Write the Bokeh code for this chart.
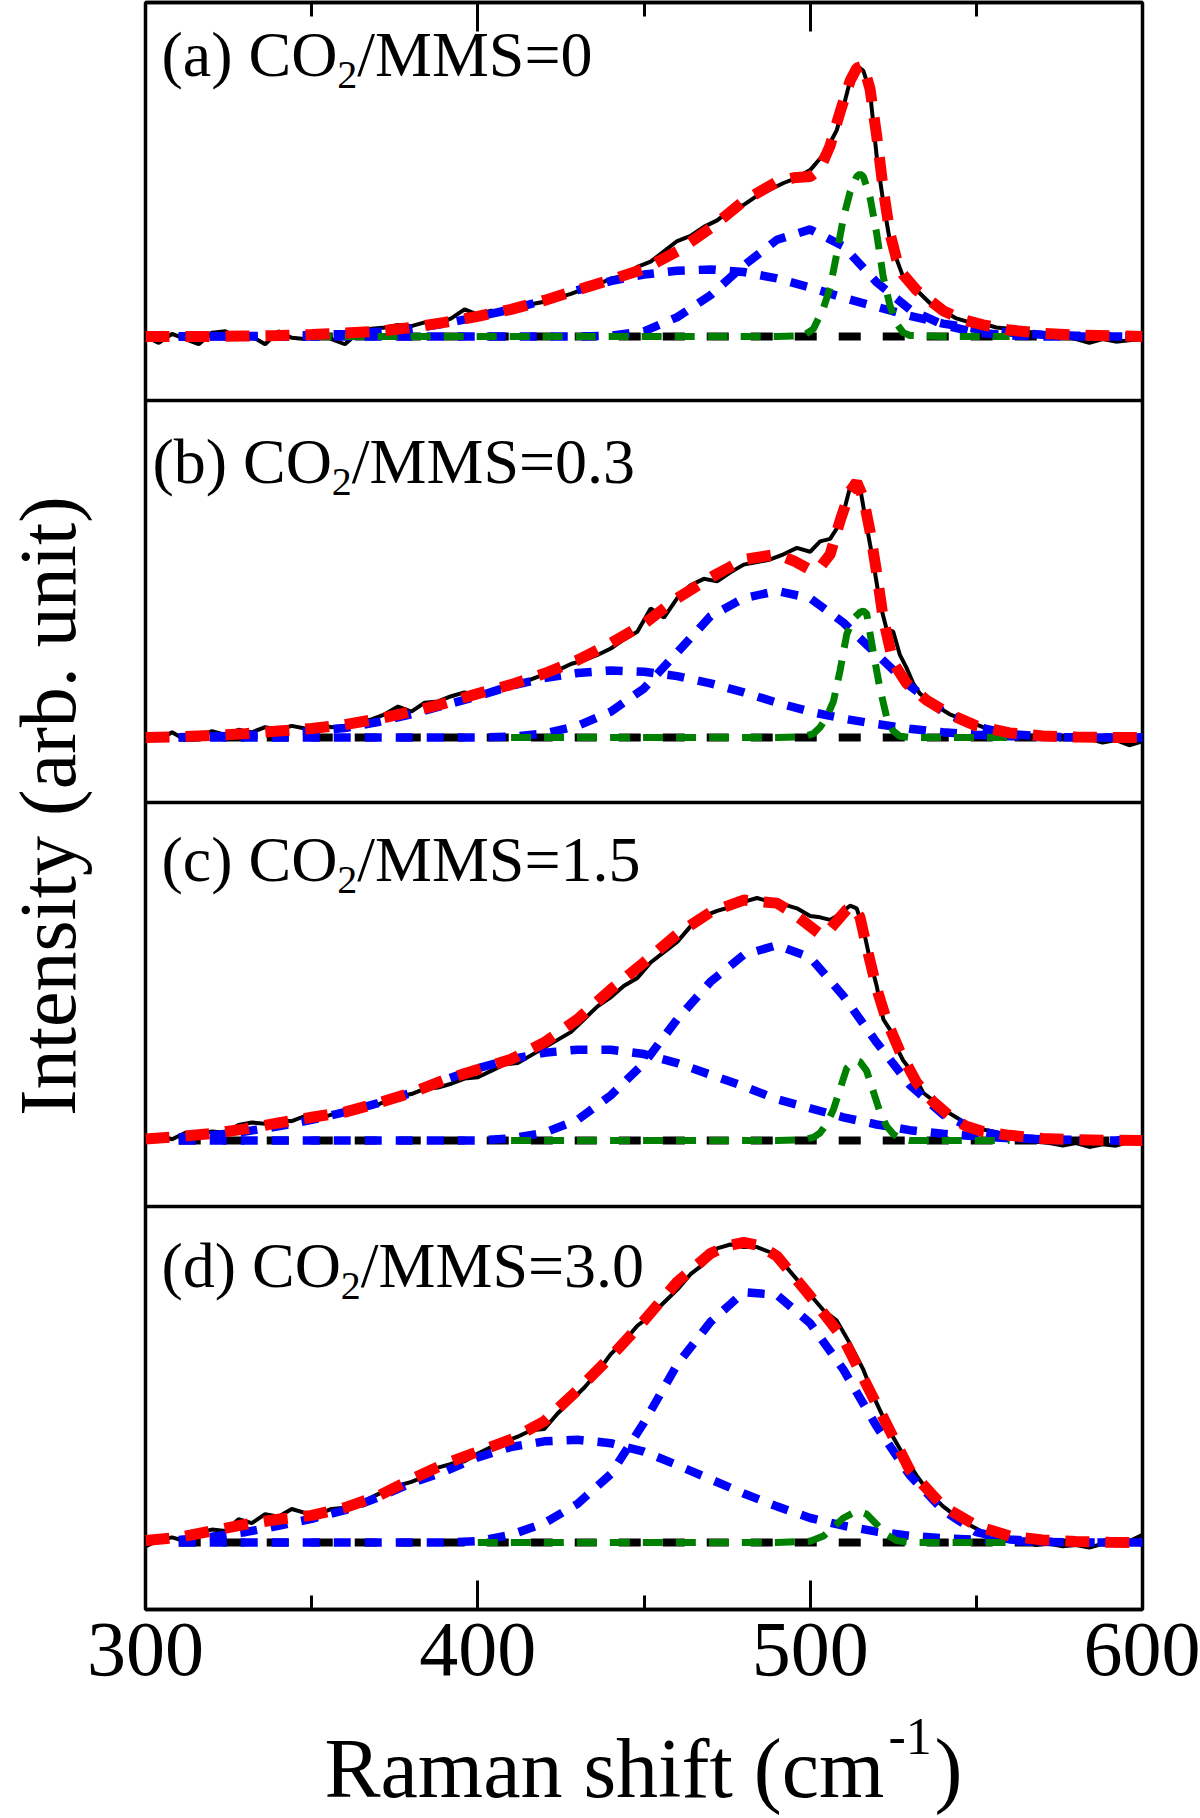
import math
from bokeh.plotting import figure
from bokeh.layouts import row, column
from bokeh.models import Range1d, LinearAxis, FixedTicker, Label, Span
from bokeh.embed import file_html
from bokeh.resources import INLINE

# ---------------------------------------------------------------- data
x_major_ticks = [300, 400, 500, 600]
x_minor_ticks = [350, 450, 550]

panel_titles = [("(a) CO", "2", "/MMS=0"),
                ("(b) CO", "2", "/MMS=0.3"),
                ("(c) CO", "2", "/MMS=1.5"),
                ("(d) CO", "2", "/MMS=3.0")]
x_title = ("Raman shift (cm", "-1", ")")
y_title = "Intensity (arb. unit)"

# common grid of the two broad (blue) components
comp_x = [310, 320, 330, 340, 350, 360, 370, 380, 390, 400, 410, 420, 430, 440, 450,
          460, 470, 480, 490, 500, 510, 520, 530, 540, 550, 560, 570, 580, 590, 600]

baseline_x = [310, 590]
baseline_y = [0, 0]

# ---- (a) CO2/MMS = 0
a_meas_x = list(range(300, 501, 4)) + [503, 506, 508, 510, 512, 514, 516, 518, 520, 522, 524, 526,
                                       528, 530, 532] + list(range(536, 601, 4))
a_meas_y = [0.00, -0.025, 0.01, -0.01, -0.03, 0.015, 0.02, -0.005, 0.0, -0.03,
            0.02, -0.005, -0.01, 0.02, -0.01, -0.03, 0.015, 0.03, 0.035, 0.045,
            0.04, 0.055, 0.05, 0.07, 0.105, 0.085, 0.1, 0.095, 0.12, 0.125,
            0.135, 0.15, 0.165, 0.185, 0.2, 0.225, 0.235, 0.27, 0.29, 0.33,
            0.37, 0.39, 0.425, 0.45, 0.49, 0.51, 0.545, 0.57, 0.595, 0.615,
            0.645,
            0.69, 0.75, 0.80, 0.89, 0.99, 1.05, 1.03, 0.95, 0.70, 0.52, 0.37, 0.30, 0.23, 0.20, 0.18,
            0.13, 0.10, 0.07, 0.055, 0.05, 0.035, 0.03, 0.02, 0.015, 0.01, 0.0, -0.01, -0.025,
            -0.01, -0.02, -0.015, -0.01]
a_fit_x = [300, 310, 320, 330, 340, 350, 360, 370, 380, 390, 400, 410, 420, 430, 440, 450, 460,
           470, 480, 490, 495, 500, 503, 506, 509, 512, 514, 516, 518, 520, 522, 524, 526, 528,
           532, 536, 540, 546, 552, 560, 570, 580, 590, 600]
a_fit_y = [0.0, 0.0, 0.0, 0.002, 0.004, 0.008, 0.013, 0.02, 0.035, 0.055, 0.078, 0.105, 0.14,
           0.18, 0.22, 0.262, 0.33, 0.42, 0.525, 0.6, 0.615, 0.62, 0.65, 0.74, 0.87, 0.99, 1.04,
           1.05, 0.96, 0.78, 0.57, 0.40, 0.30, 0.24, 0.18, 0.14, 0.10, 0.065, 0.045, 0.025, 0.012,
           0.006, 0.003, 0.0]
a_blue1_y = [0.0, 0.001, 0.002, 0.003, 0.005, 0.01, 0.018, 0.03, 0.05, 0.077, 0.105, 0.14, 0.18,
             0.215, 0.24, 0.255, 0.26, 0.25, 0.225, 0.19, 0.15, 0.115, 0.08, 0.05, 0.03, 0.015,
             0.007, 0.003, 0.001, 0.0]
a_blue2_y = [0, 0, 0, 0, 0, 0, 0, 0, 0, 0, 0, 0, 0, 0.003, 0.02, 0.075, 0.16, 0.275, 0.375,
             0.415, 0.35, 0.21, 0.105, 0.045, 0.015, 0.004, 0, 0, 0, 0]
a_green_x = [350, 400, 450, 490, 498, 501, 504, 506, 508, 510, 512, 514, 515, 516, 518, 520, 522,
             524, 526, 528, 530, 540, 560]
a_green_y = [0, 0, 0, 0, 0.003, 0.03, 0.11, 0.19, 0.32, 0.46, 0.56, 0.62, 0.63, 0.62, 0.54, 0.40,
             0.23, 0.12, 0.05, 0.015, 0.004, 0, 0]

# ---- (b) CO2/MMS = 0.3
b_meas_x = list(range(300, 501, 4)) + [503, 506, 508, 510, 512, 513, 515, 517, 519, 521, 523, 525,
                                       527, 529, 531, 533, 537, 542, 547, 552, 556, 560, 564, 568,
                                       572, 576, 580, 584, 588, 592, 596, 600]
b_meas_y = [0.0, -0.01, 0.02, -0.01, 0.0, 0.025, 0.01, 0.03, 0.02, 0.04,
            0.03, 0.045, 0.035, 0.05, 0.04, 0.045, 0.06, 0.07, 0.09, 0.12,
            0.10, 0.135, 0.14, 0.16, 0.175, 0.165, 0.18, 0.2, 0.205, 0.225,
            0.245, 0.26, 0.285, 0.3, 0.32, 0.345, 0.38, 0.41, 0.5, 0.465,
            0.54, 0.59, 0.615, 0.605, 0.64, 0.67, 0.68, 0.69, 0.71, 0.735,
            0.72,
            0.76, 0.77, 0.81, 0.87, 0.97, 0.995, 0.97, 0.82, 0.68, 0.52, 0.42, 0.41, 0.32, 0.27,
            0.21, 0.17, 0.13, 0.09, 0.065, 0.04, 0.025, 0.02, 0.01, 0.005, 0.0, 0.005, -0.01,
            -0.005, -0.02, -0.01, -0.03, -0.015]
b_fit_x = [300, 310, 320, 330, 340, 350, 360, 370, 380, 390, 400, 410, 420, 430, 440, 450, 460,
           470, 480, 490, 495, 500, 503, 506, 509, 512, 514, 516, 518, 520, 522, 525, 529, 535,
           542, 550, 560, 570, 580, 590, 600]
b_fit_y = [0.0, 0.003, 0.008, 0.015, 0.025, 0.035, 0.05, 0.072, 0.1, 0.132, 0.17, 0.205, 0.248,
           0.3, 0.365, 0.44, 0.54, 0.62, 0.69, 0.71, 0.685, 0.65, 0.66, 0.71, 0.84, 0.955, 0.99,
           0.93, 0.80, 0.64, 0.46, 0.29, 0.21, 0.145, 0.09, 0.045, 0.018, 0.006, 0.002, 0.0, 0.0]
b_blue1_y = [0.001, 0.004, 0.008, 0.015, 0.025, 0.037, 0.06, 0.09, 0.125, 0.16, 0.2, 0.23, 0.25,
             0.26, 0.255, 0.238, 0.21, 0.175, 0.135, 0.1, 0.073, 0.052, 0.034, 0.02, 0.011,
             0.005, 0.002, 0.001, 0.0, 0.0]
b_blue2_y = [0, 0, 0, 0, 0, 0, 0, 0, 0, 0, 0.003, 0.015, 0.045, 0.1, 0.19, 0.33, 0.47, 0.54,
             0.568, 0.54, 0.445, 0.323, 0.2, 0.1, 0.042, 0.013, 0.004, 0, 0, 0]
b_green_x = [410, 450, 490, 498, 501, 503, 505, 507, 509, 511, 513, 515, 516, 517, 519, 521, 523,
             525, 527, 530, 560]
b_green_y = [0, 0, 0, 0.003, 0.015, 0.04, 0.08, 0.14, 0.26, 0.40, 0.46, 0.485, 0.49, 0.48, 0.33,
             0.19, 0.08, 0.025, 0.005, 0, 0]

# ---- (c) CO2/MMS = 1.5
c_meas_x = list(range(300, 501, 4)) + [503, 506, 508, 510, 512, 514, 516, 518, 520, 522, 524, 526,
                                       528, 531, 534, 537, 542, 547, 551, 555, 560, 564, 568, 572,
                                       576, 580, 584, 588, 592, 596, 600]
c_meas_y = [0.01, 0.02, 0.005, 0.03, 0.025, 0.035, 0.03, 0.06, 0.07, 0.065,
            0.08, 0.075, 0.095, 0.085, 0.1, 0.11, 0.115, 0.13, 0.15, 0.17,
            0.18, 0.2, 0.205, 0.22, 0.24, 0.245, 0.27, 0.295, 0.3, 0.33,
            0.36, 0.39, 0.42, 0.47, 0.52, 0.555, 0.6, 0.63, 0.69, 0.73,
            0.77, 0.83, 0.87, 0.89, 0.905, 0.925, 0.94, 0.925, 0.915, 0.9,
            0.87,
            0.865, 0.855, 0.87, 0.89, 0.91, 0.90, 0.82, 0.70, 0.60, 0.47, 0.43, 0.36, 0.31, 0.26,
            0.185, 0.155, 0.105, 0.066, 0.045, 0.035, 0.02, 0.01, -0.005, -0.01, -0.02, -0.01,
            -0.025, -0.015, -0.02, -0.005, -0.01]
c_fit_x = [300, 310, 320, 330, 340, 350, 360, 370, 380, 390, 400, 410, 420, 430, 440, 450, 460,
           470, 480, 490, 495, 500, 503, 505, 508, 511, 513, 515, 517, 520, 523, 527, 532, 537,
           542, 547, 552, 560, 570, 580, 590, 600]
c_fit_y = [0.006, 0.015, 0.027, 0.045, 0.068, 0.09, 0.11, 0.145, 0.185, 0.235, 0.275, 0.315,
           0.38, 0.47, 0.585, 0.69, 0.8, 0.885, 0.932, 0.92, 0.88, 0.83, 0.80, 0.805, 0.85, 0.895,
           0.905, 0.865, 0.75, 0.59, 0.465, 0.345, 0.225, 0.15, 0.095, 0.055, 0.035, 0.02, 0.008,
           0.003, 0.001, 0.0]
c_blue1_y = [0.012, 0.02, 0.035, 0.055, 0.08, 0.11, 0.145, 0.185, 0.235, 0.28, 0.315, 0.34,
             0.352, 0.352, 0.335, 0.3, 0.255, 0.21, 0.16, 0.125, 0.09, 0.062, 0.04, 0.026, 0.016,
             0.009, 0.005, 0.003, 0.001, 0.0]
c_blue2_y = [0, 0, 0, 0, 0, 0, 0, 0, 0, 0, 0.008, 0.03, 0.08, 0.175, 0.3, 0.47, 0.615, 0.72,
             0.757, 0.71, 0.56, 0.38, 0.215, 0.1, 0.04, 0.012, 0.003, 0, 0, 0]
c_green_x = [410, 450, 490, 498, 501, 503, 505, 507, 509, 511, 513, 514, 515, 517, 519, 521, 523,
             525, 527, 530, 560]
c_green_y = [0, 0, 0, 0.003, 0.012, 0.03, 0.065, 0.12, 0.2, 0.28, 0.305, 0.31, 0.305, 0.27, 0.19,
             0.11, 0.055, 0.025, 0.008, 0, 0]

# ---- (d) CO2/MMS = 3.0
d_meas_x = list(range(300, 601, 4))
d_meas_y = [-0.015, 0.01, 0.02, 0.005, 0.04, 0.05, 0.045, 0.09, 0.075, 0.11,
            0.1, 0.13, 0.115, 0.11, 0.13, 0.135, 0.15, 0.175, 0.2, 0.22,
            0.235, 0.255, 0.29, 0.305, 0.315, 0.345, 0.37, 0.39, 0.41, 0.435,
            0.44, 0.5, 0.55, 0.6, 0.66, 0.73, 0.78, 0.84, 0.88, 0.93,
            0.98, 1.04, 1.08, 1.14, 1.155, 1.145, 1.145, 1.125, 1.08, 1.02,
            0.96,
            0.9, 0.86, 0.77, 0.67, 0.54, 0.43, 0.34, 0.26, 0.19, 0.14, 0.1, 0.068, 0.04, 0.028,
            0.015, 0.005, -0.01, -0.005, -0.015, -0.01, -0.02, -0.005, -0.01, 0.005, 0.03]
d_fit_x = [300, 310, 320, 330, 340, 350, 360, 370, 380, 390, 400, 410, 420, 430, 440, 450, 460,
           470, 475, 480, 485, 490, 500, 510, 520, 530, 540, 550, 560, 570, 580, 590, 600]
d_fit_y = [0.008, 0.02, 0.045, 0.07, 0.09, 0.105, 0.135, 0.18, 0.245, 0.305, 0.352, 0.4, 0.47,
           0.59, 0.72, 0.86, 1.01, 1.12, 1.15, 1.163, 1.15, 1.11, 0.955, 0.79, 0.535, 0.28, 0.14,
           0.065, 0.025, 0.01, 0.004, 0.001, 0.0]
d_blue1_y = [0.01, 0.022, 0.04, 0.065, 0.092, 0.125, 0.175, 0.23, 0.275, 0.33, 0.37, 0.392,
             0.398, 0.385, 0.352, 0.3, 0.245, 0.19, 0.14, 0.095, 0.065, 0.042, 0.026, 0.017,
             0.01, 0.005, 0.002, 0.001, 0.0, 0.0]
d_blue2_y = [0, 0, 0, 0, 0, 0, 0, 0, 0, 0.005, 0.03, 0.075, 0.15, 0.265, 0.465, 0.69, 0.855,
             0.97, 0.96, 0.85, 0.67, 0.45, 0.26, 0.125, 0.04, 0.012, 0.004, 0, 0, 0]
d_green_x = [400, 450, 490, 500, 504, 507, 510, 513, 515, 517, 520, 523, 526, 530, 560]
d_green_y = [0, 0, 0, 0.005, 0.025, 0.06, 0.095, 0.115, 0.12, 0.11, 0.07, 0.03, 0.008, 0, 0]

panels = [
    dict(mx=a_meas_x, my=a_meas_y, fx=a_fit_x, fy=a_fit_y, b1=a_blue1_y, b2=a_blue2_y,
         gx=a_green_x, gy=a_green_y),
    dict(mx=b_meas_x, my=b_meas_y, fx=b_fit_x, fy=b_fit_y, b1=b_blue1_y, b2=b_blue2_y,
         gx=b_green_x, gy=b_green_y),
    dict(mx=c_meas_x, my=c_meas_y, fx=c_fit_x, fy=c_fit_y, b1=c_blue1_y, b2=c_blue2_y,
         gx=c_green_x, gy=c_green_y),
    dict(mx=d_meas_x, my=d_meas_y, fx=d_fit_x, fy=d_fit_y, b1=d_blue1_y, b2=d_blue2_y,
         gx=d_green_x, gy=d_green_y),
]
for pn in panels:
    assert len(pn["mx"]) == len(pn["my"]), (len(pn["mx"]), len(pn["my"]))
    assert len(pn["fx"]) == len(pn["fy"])
    assert len(pn["gx"]) == len(pn["gy"])
    assert len(pn["b1"]) == len(comp_x) and len(pn["b2"]) == len(comp_x)

# ---------------------------------------------------------------- layout (page pixels)
FONT = "Liberation Serif"
PAGE_W, PAGE_H = 1200, 1818
MAIN_H = 1700                         # height of the plotting canvas
FRAME_L, FRAME_R = 144, 1142
FRAME_T, FRAME_B = 2, 1609
UNIT_PX = 258.0                       # pixels per intensity unit
BASELINES = [336, 737, 1140, 1542]    # page y of the zero line in each panel
SEPARATORS = [400, 802, 1206]
BASE_FIX = 0.36                       # label anchor correction, fraction of font size


def xd(page_x):
    return 300 + (page_x - FRAME_L) * 300.0 / (FRAME_R - FRAME_L)


p = figure(width=PAGE_W, height=MAIN_H, output_backend="svg", toolbar_location=None,
           x_range=Range1d(300, 600), y_range=Range1d(FRAME_B, FRAME_T),
           min_border_left=FRAME_L, min_border_right=PAGE_W - FRAME_R,
           min_border_top=FRAME_T, min_border_bottom=MAIN_H - FRAME_B)
p.grid.visible = False
p.background_fill_color = "white"
p.border_fill_color = "white"
p.outline_line_color = "black"
p.outline_line_width = 3.5

p.extra_y_ranges = {f"p{k}": Range1d(-(FRAME_B - b) / UNIT_PX, (b - FRAME_T) / UNIT_PX)
                    for k, b in enumerate(BASELINES)}

# left axis only carries the y title
yax = p.yaxis[0]
yax.ticker = FixedTicker(ticks=[])
yax.axis_line_color = None
yax.major_tick_out = 0
yax.major_tick_in = 0
yax.minor_tick_out = 0
yax.minor_tick_in = 0
yax.major_label_standoff = 0
yax.major_label_text_font_size = "1px"
yax.major_label_text_color = None
yax.axis_label = y_title
yax.axis_label_text_font = FONT
yax.axis_label_text_font_size = "80px"
yax.axis_label_text_font_style = "normal"
yax.axis_label_text_color = "black"
yax.axis_label_standoff = 54


def style_axis(ax, labels=True):
    ax.ticker = FixedTicker(ticks=x_major_ticks, minor_ticks=x_minor_ticks)
    ax.major_tick_in = 29
    ax.major_tick_out = 0
    ax.minor_tick_in = 14
    ax.minor_tick_out = 0
    ax.major_tick_line_width = 3
    ax.minor_tick_line_width = 3
    ax.major_tick_line_color = "black"
    ax.minor_tick_line_color = "black"
    ax.axis_line_width = 3.5
    ax.axis_line_color = "black"
    if labels:
        ax.major_label_text_font = FONT
        ax.major_label_text_font_size = "78px"
        ax.major_label_text_color = "black"
        ax.major_label_standoff = 14
    else:
        ax.major_label_text_font_size = "1px"
        ax.major_label_text_color = None
        ax.major_label_standoff = 0


style_axis(p.xaxis[0], labels=True)
top_axis = LinearAxis()
style_axis(top_axis, labels=False)
p.add_layout(top_axis, "above")

for y in SEPARATORS:
    p.add_layout(Span(location=y, dimension="width", line_color="black", line_width=3.5))

for k, pn in enumerate(panels):
    rn = f"p{k}"
    p.line(pn["mx"], pn["my"], line_color="black", line_width=4, y_range_name=rn)
    p.line(baseline_x, baseline_y, line_color="black", line_width=8, line_dash="22 22",
           y_range_name=rn)
    p.line(comp_x, pn["b1"], line_color="#0000ff", line_width=8.5, line_dash="17 14",
           y_range_name=rn)
    p.line(comp_x, pn["b2"], line_color="#0000ff", line_width=8.5, line_dash="17 14",
           y_range_name=rn)
    p.line(pn["gx"], pn["gy"], line_color="#008000", line_width=7, line_dash="20 13",
           y_range_name=rn)
    p.line(pn["fx"], pn["fy"], line_color="#ff0000", line_width=11, line_dash="24 16",
           y_range_name=rn)


def text_label(x, y, text, size, **kw):
    # y is the wanted baseline (page px); Bokeh draws the glyphs a bit lower than
    # the alphabetic anchor, so the anchor is lifted by BASE_FIX * size.
    return Label(x=x, y=y - BASE_FIX * size, text=text, text_font=FONT,
                 text_font_size=f"{size}px", text_color="black",
                 text_baseline="alphabetic", text_align="left", **kw)


# panel titles: "(a) CO" + subscript "2" + "/MMS=0"
TIMES_W = {'(': .333, ')': .333, 'a': .444, 'b': .5, 'c': .444, 'd': .5, ' ': .25,
           'C': .667, 'O': .722}
TITLE_X = [160, 151, 160, 160]
TITLE_BASE = [77, 484, 882, 1288]
for k, (pre, sub, post) in enumerate(panel_titles):
    x0 = TITLE_X[k]
    yb = TITLE_BASE[k]
    w_pre = sum(TIMES_W[ch] for ch in pre) * 64
    p.add_layout(text_label(xd(x0), yb, pre, 64))
    p.add_layout(text_label(xd(x0 + w_pre), yb + 12, sub, 40))
    p.add_layout(text_label(xd(x0 + w_pre + 20), yb, post, 64))

# x-axis title strip across the full page width: "Raman shift (cm" + superscript "-1" + ")"
xtf = figure(width=PAGE_W, height=PAGE_H - MAIN_H, output_backend="svg", toolbar_location=None,
             x_range=Range1d(0, PAGE_W), y_range=Range1d(PAGE_H, MAIN_H),
             x_axis_location=None, y_axis_location=None, min_border=0)
xtf.grid.visible = False
xtf.outline_line_color = None
xtf.background_fill_color = "white"
xtf.border_fill_color = "white"
xtf.add_layout(text_label(324, 1798, x_title[0], 84))
xtf.add_layout(text_label(888, 1755, x_title[1], 52))
xtf.add_layout(text_label(934, 1798, x_title[2], 84))

# the row wrapper keeps the title strip's frame from being aligned to the plot frame
layout = column(row(p, spacing=0), xtf, spacing=0)
open("out.html", "w").write(file_html(layout, INLINE))
